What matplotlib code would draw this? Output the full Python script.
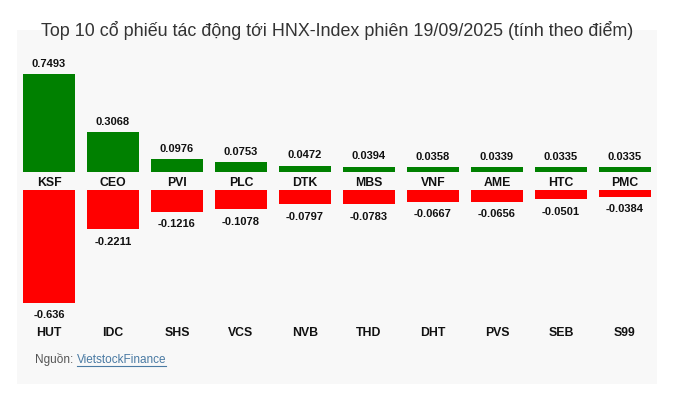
import matplotlib
matplotlib.use("Agg")
import matplotlib.pyplot as plt
from matplotlib.patches import Rectangle
from matplotlib.transforms import blended_transform_factory


TITLE = "Top 10 cổ phiếu tác động tới HNX-Index phiên 19/09/2025 (tính theo điểm)"

UP_TICKERS = ["KSF", "CEO", "PVI", "PLC", "DTK", "MBS", "VNF", "AME", "HTC", "PMC"]
UP_VALUES = [0.7493, 0.3068, 0.0976, 0.0753, 0.0472, 0.0394, 0.0358, 0.0339, 0.0335, 0.0335]

DOWN_TICKERS = ["HUT", "IDC", "SHS", "VCS", "NVB", "THD", "DHT", "PVS", "SEB", "S99"]
DOWN_VALUES = [-0.636, -0.2211, -0.1216, -0.1078, -0.0797, -0.0783, -0.0667, -0.0656, -0.0501, -0.0384]

UP_LABELS = ["0.7493", "0.3068", "0.0976", "0.0753", "0.0472", "0.0394", "0.0358", "0.0339", "0.0335", "0.0335"]
DOWN_LABELS = ["-0.636", "-0.2211", "-0.1216", "-0.1078", "-0.0797", "-0.0783", "-0.0667", "-0.0656", "-0.0501", "-0.0384"]

W, H = 691, 396
GREEN = "#008000"
RED = "#ff0000"
PANEL = "#f8f8f8"

plt.rcParams["font.family"] = ["Liberation Sans", "DejaVu Sans"]


def fy(py):
    # pixel row (from top) -> figure fraction
    return 1 - py / H


def fx(px):
    return px / W


def main():
    fig = plt.figure(figsize=(W / 100, H / 100), dpi=100)
    fig.patch.set_facecolor("white")

    # light grey card behind the chart
    fig.add_artist(Rectangle((fx(17), fy(384)), fx(640), (384 - 30) / H,
                             transform=fig.transFigure, facecolor=PANEL,
                             edgecolor="none", zorder=0))

    fig.text(fx(337), fy(30), TITLE, ha="center", va="center",
             fontsize=12.9, color="#333333")

    x = list(range(len(UP_TICKERS)))

    # positive panel: 130.4 px per point
    ax_up = fig.add_axes([fx(17), fy(171.7), fx(640), (171.7 - 60) / H])
    ax_up.bar(x, UP_VALUES, width=0.8125, color=GREEN)
    ax_up.set_xlim(-0.5, 9.5)
    ax_up.set_ylim(0, (171.7 - 60) / 130.4)
    for xi, v, lab in zip(x, UP_VALUES, UP_LABELS):
        ax_up.annotate(lab, (xi, v), xytext=(0, 7.3), textcoords="offset points",
                       ha="center", va="center", fontsize=8, fontweight="bold",
                       color="#111111")

    # negative panel: 177.2 px per point
    ax_dn = fig.add_axes([fx(17), fy(330), fx(640), (330 - 190) / H])
    ax_dn.bar(x, DOWN_VALUES, width=0.8125, color=RED)
    ax_dn.set_xlim(-0.5, 9.5)
    ax_dn.set_ylim(-(330 - 190) / 177.2, 0)
    for xi, v, lab in zip(x, DOWN_VALUES, DOWN_LABELS):
        ax_dn.annotate(lab, (xi, v), xytext=(0, -9.1), textcoords="offset points",
                       ha="center", va="center", fontsize=8, fontweight="bold",
                       color="#111111")

    for ax in (ax_up, ax_dn):
        ax.set_axis_off()
        ax.patch.set_alpha(0)

    tr = blended_transform_factory(ax_up.transData, fig.transFigure)
    for xi, t in zip(x, UP_TICKERS):
        fig.text(xi, fy(182.7), t, transform=tr, ha="center", va="center",
                 fontsize=8.8, fontweight="bold", color="#111111")
    for xi, t in zip(x, DOWN_TICKERS):
        fig.text(xi, fy(332.7), t, transform=tr, ha="center", va="center",
                 fontsize=8.8, fontweight="bold", color="#111111")

    # source line
    src = fig.text(fx(35), fy(360), "Nguồn: ", ha="left", va="center",
                   fontsize=8.5, color="#555555")
    fig.canvas.draw()
    bb = src.get_window_extent()
    link = fig.text(bb.x1 / W, fy(360), "VietstockFinance", ha="left", va="center",
                    fontsize=8.5, color="#4a7aa3")
    fig.canvas.draw()
    lb = link.get_window_extent()
    fig.add_artist(plt.Line2D([lb.x0 / W, lb.x1 / W], [fy(365.5), fy(365.5)],
                              transform=fig.transFigure, color="#4a7aa3", lw=0.8))

    fig.savefig("out.png", dpi=100, facecolor="white")
    plt.close(fig)


if __name__ == "__main__":
    main()
